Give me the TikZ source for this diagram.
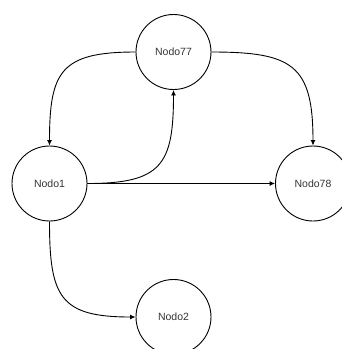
\documentclass[tikz,border=0pt]{standalone}
\usepackage{fontspec}
\setmainfont{Liberation Sans}
\usepackage{tikz}
\usetikzlibrary{arrows.meta}

\begin{document}
\begin{tikzpicture}[x=1pt,y=-1pt,
    nodo/.style={draw, circle, minimum size=75pt, inner sep=0pt, line width=0.9pt,
      font=\fontsize{10.5}{12}\selectfont, text=black!80},
    flecha/.style={-{Latex[length=5.5pt,width=5pt]}, line width=0.9pt, looseness=1.5}]
      \useasboundingbox (0,0) rectangle (342,349);
      \clip (0,0) rectangle (342,349);

      \node[nodo] (N77) at (173.5,52) {Nodo77};
      \node[nodo] (N1) at (49.5,183.5) {Nodo1};
      \node[nodo] (N78) at (313,183.5) {Nodo78};
      \node[nodo] (N2) at (173.5,317) {Nodo2};

      \draw[flecha] (N77.west) to[out=180,in=90] (N1.north);
      \draw[flecha] (N77.east) to[out=0,in=90] (N78.north);
      \draw[flecha] (N1.east) to[out=0,in=-90] (N77.south);
      \draw[flecha] (N1.east) -- (N78.west);
      \draw[flecha] (N1.south) to[out=-90,in=180] (N2.west);

      \end{tikzpicture}
\end{document}
